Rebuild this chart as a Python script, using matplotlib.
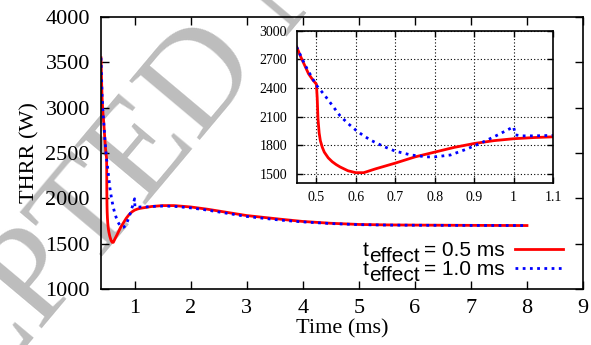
import matplotlib
matplotlib.use("Agg")
import matplotlib.pyplot as plt
from matplotlib.transforms import IdentityTransform

# t_effect = 0.5 ms
red_t = [0.40, 0.41, 0.42, 0.43, 0.44, 0.45, 0.46, 0.47, 0.48, 0.49, 0.50,
         0.502, 0.504, 0.507, 0.51, 0.515, 0.52, 0.53, 0.54, 0.55, 0.56,
         0.58, 0.60, 0.62, 0.65, 0.70, 0.75, 0.80, 0.85, 0.90, 0.95, 1.00,
         1.05, 1.10, 1.2, 1.3, 1.5, 1.7, 2.0, 2.3, 2.5, 2.8, 3.0, 3.3, 3.6,
         4.0, 4.5, 5.0, 5.5, 6.0, 7.0, 8.0]
red_q = [3550, 3300, 3100, 2980, 2900, 2830, 2730, 2640, 2550, 2490, 2440,
         2300, 2080, 1930, 1850, 1780, 1730, 1670, 1630, 1600, 1575,
         1535, 1515, 1515, 1555, 1615, 1680, 1730, 1780, 1820, 1850, 1870,
         1882, 1890, 1900, 1910, 1920, 1920, 1905, 1880, 1860, 1830, 1810,
         1790, 1770, 1745, 1725, 1712, 1707, 1705, 1702, 1700]

# t_effect = 1.0 ms
blue_t = [0.40, 0.42, 0.44, 0.45, 0.47, 0.49, 0.50, 0.52, 0.54, 0.56, 0.58,
          0.60, 0.62, 0.64, 0.67, 0.70, 0.74, 0.78, 0.80, 0.84, 0.88, 0.92,
          0.96, 1.00, 1.005, 1.02, 1.05, 1.10, 1.2, 1.3, 1.5, 1.7, 2.0, 2.3,
          2.5, 2.8, 3.0, 3.3, 3.6, 4.0, 4.5, 5.0, 5.5, 6.0, 7.0, 8.0]
blue_q = [3550, 3120, 2920, 2830, 2650, 2500, 2430, 2330, 2220, 2110, 2030,
          1960, 1900, 1850, 1790, 1740, 1700, 1680, 1680, 1700, 1760, 1830,
          1910, 1995, 1910, 1900, 1900, 1905, 1905, 1910, 1915, 1912, 1895,
          1870, 1850, 1820, 1800, 1780, 1760, 1740, 1722, 1710, 1705, 1703,
          1701, 1700]

legend_vals = ['= 0.5 ms', '= 1.0 ms']

serif = ['Liberation Serif', 'DejaVu Serif']
sans = ['Liberation Sans', 'DejaVu Sans']

fig = plt.figure(figsize=(5.91, 3.45), dpi=100)

# watermark
fig.text(-0.38, -0.72, 'ACCEPTED MANUSCRIPT', rotation=50, rotation_mode='anchor',
         ha='left', va='center', fontsize=100, family=serif, color='#bdbdbd', zorder=-1)

ax = fig.add_axes([0.1709, 0.1623, 0.8156, 0.7884])
ax.patch.set_alpha(0)
ax.plot(red_t, red_q, color='#ff0000', lw=2.0, label=legend_vals[0])
ax.plot(blue_t, blue_q, color='#0000ff', lw=2.0, ls=(0, (1, 1.6)), label=legend_vals[1])
ax.set_xlim(0.4, 9)
ax.set_ylim(1000, 4000)
ax.set_xticks(range(1, 10))
ax.set_yticks(range(1000, 4001, 500))
ax.tick_params(direction='in', length=6, width=1, top=True, right=True, labelsize=16)
ax.tick_params(axis='x', pad=7)
ax.tick_params(axis='y', pad=8)
for lab in ax.get_xticklabels() + ax.get_yticklabels():
    lab.set_family(serif)
for s in ax.spines.values():
    s.set_linewidth(1.2)
ax.set_xlabel('Time (ms)', fontsize=16, family=serif, labelpad=1)
ax.set_ylabel('THRR (W)', fontsize=16, family=serif, labelpad=4)
leg = ax.legend(loc='lower right', markerfirst=False, frameon=False,
                prop={'family': sans, 'size': 15},
                handlelength=2.3, handletextpad=0.5, labelspacing=0.02,
                borderaxespad=0, borderpad=0, bbox_to_anchor=(0.9585, 0.035))

# inset
ins = fig.add_axes([0.502, 0.4704, 0.4337, 0.4406])
ins.patch.set_alpha(0)
ins.plot(red_t, red_q, color='#ff0000', lw=2.0)
ins.plot(blue_t, blue_q, color='#0000ff', lw=2.0, ls=(0, (1, 1.6)))
ins.set_xlim(0.45, 1.1)
ins.set_ylim(1410, 3000)
ins.set_xticks([0.5, 0.6, 0.7, 0.8, 0.9, 1.0, 1.1])
ins.set_xticklabels(['0.5', '0.6', '0.7', '0.8', '0.9', '1', '1.1'])
ins.set_yticks(range(1500, 3001, 300))
ins.grid(True, color='black', ls=(0, (1, 2)), lw=0.8)
ins.tick_params(direction='in', length=4, width=1, top=True, right=True, labelsize=10)
ins.tick_params(axis='x', pad=6)
ins.tick_params(axis='y', pad=7)
for lab in ins.get_xticklabels() + ins.get_yticklabels():
    lab.set_family(serif)
for s in ins.spines.values():
    s.set_linewidth(1.2)

# "t_effect" in front of each legend entry, subscript at full size like gnuplot
fig.canvas.draw()
r = fig.canvas.get_renderer()
for txt in leg.get_texts():
    bb = txt.get_window_extent(r)
    sub = fig.text(bb.x0 - 4, bb.y0 - 6, 'effect', transform=IdentityTransform(),
                   ha='right', va='bottom', fontsize=15, family=sans)
    sb = sub.get_window_extent(r)
    fig.text(sb.x0 - 0.5, bb.y0, 't', transform=IdentityTransform(),
             ha='right', va='bottom', fontsize=15, family=sans)

fig.savefig('out.png', dpi=100)
